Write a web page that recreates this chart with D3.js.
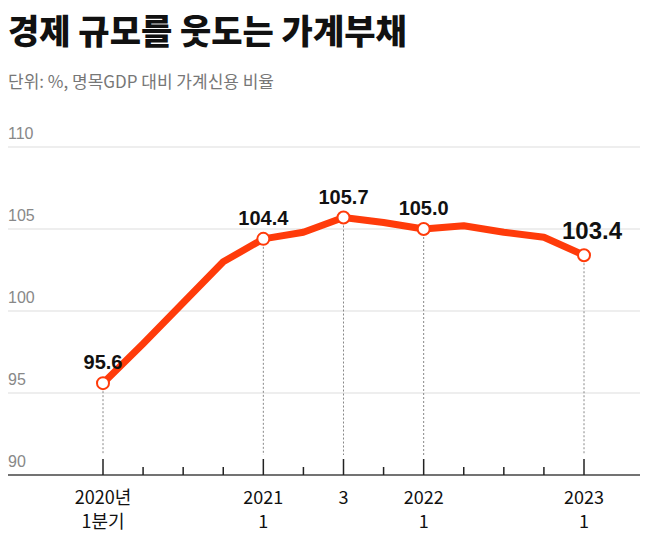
<!DOCTYPE html><html><head><meta charset="utf-8"><script src="https://cdn.jsdelivr.net/npm/d3@7"></script>
<style>body{margin:0;background:#fff;font-family:"Noto Sans CJK KR","Noto Sans",sans-serif}</style></head><body><svg id="c" width="649" height="536"></svg>
<script>
const quarters=["2020Q1","2020Q2","2020Q3","2020Q4","2021Q1","2021Q2","2021Q3","2021Q4","2022Q1","2022Q2","2022Q3","2022Q4","2023Q1"];
const values=[95.6,98.0,100.5,103.0,104.4,104.8,105.7,105.4,105.0,105.2,104.8,104.5,103.4];
const yTicks=[90,95,100,105,110];
const labeled={"2020Q1":["2020년","1분기"],"2021Q1":["2021","1"],"2021Q3":["3"],"2022Q1":["2022","1"],"2023Q1":["2023","1"]};
const annotated=["2020Q1","2021Q1","2021Q3","2022Q1","2023Q1"];
const svg=d3.select("#c");
const x=d3.scalePoint().domain(quarters).range([103,584]);
const y=d3.scaleLinear().domain([90,110]).range([475,147]);
svg.append("text").attr("x",8).attr("y",44).attr("font-size",34).attr("font-weight",900).attr("fill","#111").text("경제 규모를 웃도는 가계부채");
svg.append("text").attr("x",8).attr("y",88).attr("font-size",17).attr("fill","#777").text("단위: %, 명목GDP 대비 가계신용 비율");
yTicks.forEach(t=>{
 if(t>90) svg.append("line").attr("x1",8).attr("x2",640).attr("y1",y(t)).attr("y2",y(t)).attr("stroke","#ddd").attr("stroke-width",1);
 svg.append("text").attr("x",8).attr("y",y(t)-8).attr("font-size",16).attr("fill","#888").attr("font-family","Liberation Sans,sans-serif").text(t);
});
svg.append("line").attr("x1",8).attr("x2",640).attr("y1",y(90)).attr("y2",y(90)).attr("stroke","#444").attr("stroke-width",1.5);
quarters.forEach(q=>{
 const big=labeled[q]!==undefined;
 svg.append("line").attr("x1",x(q)).attr("x2",x(q)).attr("y1",y(90)).attr("y2",y(90)-(big?16:8)).attr("stroke","#222").attr("stroke-width",1.5);
 if(big){labeled[q].forEach((s,i)=>svg.append("text").attr("x",x(q)).attr("y",504+i*24).attr("text-anchor","middle").attr("font-size",18).attr("fill","#111").text(s));}
});
const data=quarters.map((q,i)=>({q,v:values[i]}));
annotated.forEach(q=>{const d=data.find(e=>e.q===q);
 svg.append("line").attr("x1",x(q)).attr("x2",x(q)).attr("y1",y(d.v)+8).attr("y2",y(90)-20).attr("stroke","#888").attr("stroke-dasharray","2,2").attr("stroke-width",1);});
svg.append("path").datum(data).attr("fill","none").attr("stroke","#ff3b0a").attr("stroke-width",7).attr("stroke-linejoin","round")
 .attr("d",d3.line().x(d=>x(d.q)).y(d=>y(d.v)));
annotated.forEach(q=>{const d=data.find(e=>e.q===q);const last=q==="2023Q1";
 svg.append("circle").attr("cx",x(q)).attr("cy",y(d.v)).attr("r",6).attr("fill","#fff").attr("stroke","#ff3b0a").attr("stroke-width",2);
 svg.append("text").attr("x",x(q)+(last?8:0)).attr("y",y(d.v)-(last?16:14)).attr("text-anchor","middle").attr("font-size",last?24:20).attr("font-weight",700).attr("fill","#111")
  .attr("font-family","Liberation Sans,Arial,sans-serif").text(d.v.toFixed(1));});
</script></body></html>
